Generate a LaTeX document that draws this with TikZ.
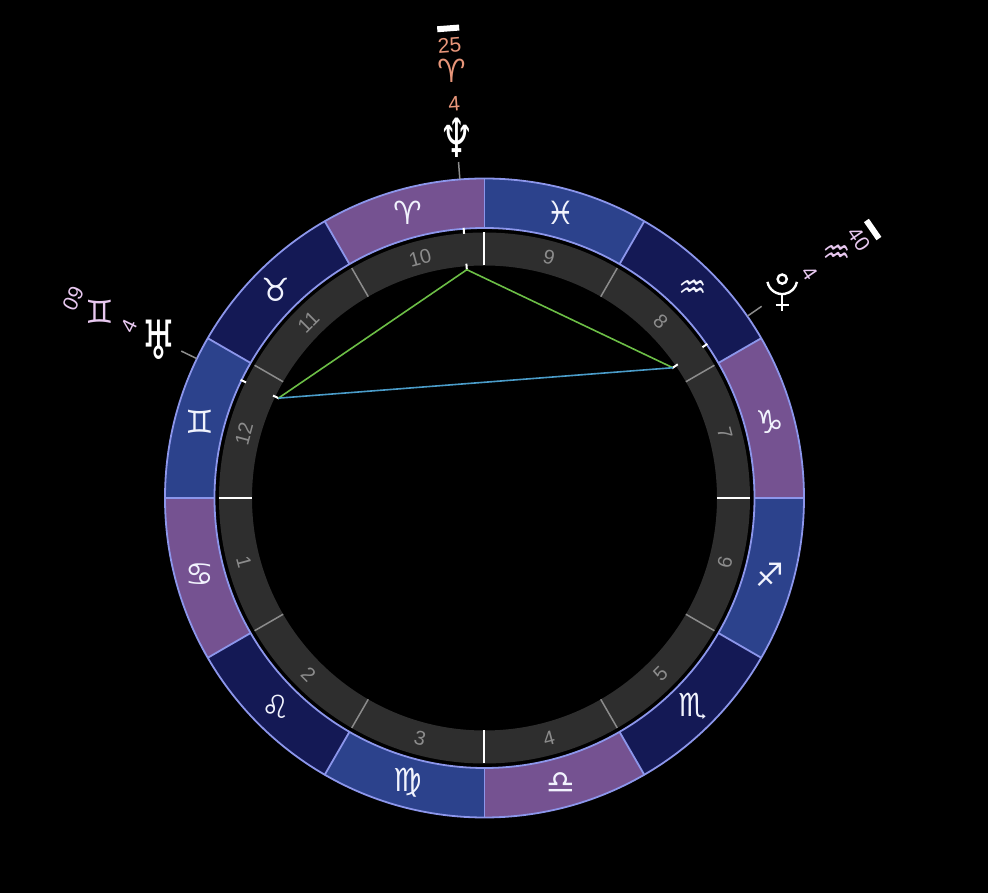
\documentclass[tikz,border=0pt]{standalone}
\usepackage{fontspec}
\setmainfont{Liberation Sans}
\newfontfamily\glyphfont{DejaVu Sans}
\usetikzlibrary{shapes.geometric,positioning,arrows}
\definecolor{ringpurple}{RGB}{117,82,145}
\definecolor{ringnavy}{RGB}{20,25,85}
\definecolor{ringblue}{RGB}{44,66,140}
\definecolor{ringedge}{RGB}{140,150,235}
\definecolor{housegray}{RGB}{46,46,46}
\definecolor{numgray}{RGB}{140,140,140}
\definecolor{salmon}{RGB}{232,150,122}
\definecolor{lilac}{RGB}{232,200,240}
\definecolor{aspgreen}{RGB}{108,190,70}
\definecolor{aspblue}{RGB}{74,156,201}

\begin{document}
\begin{tikzpicture}[x=1pt,y=1pt,
	signglyph/.style={
		font=\glyphfont\fontsize{32}{32}\selectfont, % zodiac glyphs
		text=white!88!ringedge,
		inner sep=0pt},
	housenum/.style={
		font=\fontsize{20}{20}\selectfont, % house numbers
		text=numgray,
		inner sep=0pt},
	planetglyph/.style={
		font=\glyphfont\fontsize{54}{54}\selectfont,
		text=white,
		xscale=0.72,
		inner sep=0pt},
	degnum/.style={
		font=\fontsize{21}{21}\selectfont,
		inner sep=0pt},
	retrobar/.style={
		fill=white,
		minimum width=22pt,
		minimum height=6pt,
		inner sep=0pt},
	pics/plutosign/.style={code={
		\draw[white, line width=2.4pt] (0,13) circle[radius=4.6];
		\draw[white, line width=2.4pt] (190.7:15) ++(0,13) arc[start angle=190.7, end angle=349.3, radius=15];
		\draw[white, line width=2.4pt] (0,-2) -- (0,-19);
		\draw[white, line width=2.4pt] (-6.5,-13) -- (6.5,-13);
	}}
	]
	% background
	\fill[black] (-484.5,-395) rectangle (503.5,498);

	% zodiac ring
	\foreach \i/\col/\sg/\nm in {0/ringpurple/♈/aries, 1/ringnavy/♉/taurus, 2/ringblue/♊/gemini,
		3/ringpurple/♋/cancer, 4/ringnavy/♌/leo, 5/ringblue/♍/virgo,
		6/ringpurple/♎/libra, 7/ringnavy/♏/scorpio, 8/ringblue/♐/sagittarius,
		9/ringpurple/♑/capricorn, 10/ringnavy/♒/aquarius, 11/ringblue/♓/pisces}{
		\pgfmathsetmacro{\a}{90+30*\i}
		\pgfmathsetmacro{\b}{120+30*\i}
		\pgfmathsetmacro{\m}{105+30*\i}
		\fill[\col] (\a:319.5) arc[start angle=\a, end angle=\b, radius=319.5]
			-- (\b:270) arc[start angle=\b, end angle=\a, radius=270] -- cycle;
		\node[signglyph] (\nm) at (\m:295) {\sg};
	}
	\draw[ringedge, line width=1.8pt] (0,0) circle[radius=319.5];
	\draw[ringedge, line width=1.8pt] (0,0) circle[radius=270];
	\foreach \a in {0,30,...,330}
		\draw[ringedge, line width=1.8pt] (\a:270) -- (\a:319.5);

	% house ring
	\fill[housegray, even odd rule] (0,0) circle[radius=265.5] (0,0) circle[radius=232.5];
	\foreach \a in {30,60,120,150,210,240,300,330}
		\draw[numgray, line width=1.5pt] (\a:232.5) -- (\a:265.5);
	\foreach \a in {0,90,180,270}
		\draw[white, line width=2pt] (\a:232.5) -- (\a:265.5);
	\foreach \n/\a/\r in {1/195/-75, 2/225/-45, 3/255/-15, 4/285/15, 5/315/45, 6/345/75,
		7/15/-75, 8/45/-45, 9/75/-15, 10/105/15, 11/135/45, 12/165/75}
		\node[housenum, rotate=\r] (house\n) at (\a:249) {\n};

	% planet ticks
	\foreach \t in {94.42,154.15,34.67}{
		\draw[numgray, line width=1.5pt] (\t:320) -- (\t:337);
		\draw[white, line width=2pt] (\t:265) -- (\t:271);
		\draw[white, line width=2pt] (\t:228) -- (\t:235);
	}

	% aspects
	\coordinate (asp-nep) at (94.42:229);
	\coordinate (asp-ura) at (154.15:229);
	\coordinate (asp-plu) at (34.67:229);
	\draw[aspgreen, line width=1.6pt] (asp-nep) -- (asp-ura);
	\draw[aspgreen, line width=1.6pt] (asp-nep) -- (asp-plu);
	\draw[aspblue, line width=1.6pt] (asp-ura) -- (asp-plu);

	% neptune
	\node[planetglyph] (neptune) at (94.42:361) {♆};
	\node[degnum, text=salmon, rotate=4.42] (nep-deg) at (94.42:395) {4};
	\node[signglyph, text=salmon] (nep-sign) at (94.42:428) {♈};
	\node[degnum, text=salmon, rotate=4.42] (nep-min) at (94.42:454) {25};
	\node[retrobar, rotate=4.42] (nep-retro) at (94.42:471) {};

	% uranus
	\node[planetglyph] (uranus) at (154.15:362) {♅};
	\node[degnum, text=lilac, rotate=64.15] (ura-deg) at (154.15:395) {4};
	\node[signglyph, text=lilac] (ura-sign) at (154.15:427) {♊};
	\node[degnum, text=lilac, rotate=64.15] (ura-min) at (154.15:457) {09};

	% pluto
	\coordinate (pluto) at (34.67:362);
	\pic at (pluto) {plutosign};
	\node[degnum, text=lilac, rotate=-55.33] (plu-deg) at (34.67:395) {4};
	\node[signglyph, text=lilac] (plu-sign) at (34.67:428) {♒};
	\node[degnum, text=lilac, rotate=-55.33] (plu-min) at (34.67:455) {40};
	\node[retrobar, rotate=-55.33] (plu-retro) at (34.67:472) {};
\end{tikzpicture}
\end{document}
